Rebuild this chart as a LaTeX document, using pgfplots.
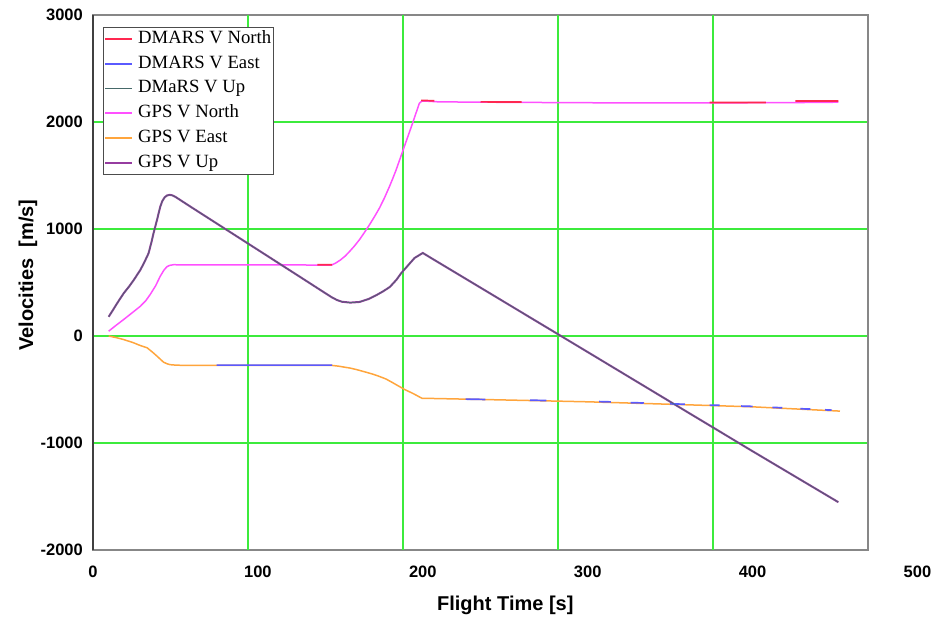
\documentclass[border=0pt]{standalone}
\usepackage{fontspec}
\setmainfont{Liberation Serif}
\setsansfont{Liberation Sans}
\usepackage{pgfplots}
\usepackage{pgfplotstable}
\pgfplotsset{compat=1.18}

\definecolor{dmN}{RGB}{255,40,80}
\definecolor{dmE}{RGB}{90,90,255}
\definecolor{dmU}{RGB}{70,105,105}
\definecolor{gpN}{RGB}{255,80,255}
\definecolor{gpE}{RGB}{255,165,60}
\definecolor{gpU}{RGB}{150,60,160}
\definecolor{gridg}{RGB}{60,235,60}

% GPS V North
\pgfplotstableread{
t v
9.5 45
14 100
18.6 154
24 220
28.7 278
32 330
34.7 388
38 470
40.8 559
43 615
44.8 647
46.5 660
48.8 666
60 665
100 665
140 663
144.6 663
147 680
150 710
153 748
155.6 790
158.5 840
161.6 900
164.5 965
167.7 1040
170.7 1115
173.7 1195
176.8 1292
179.8 1397
181.8 1472
183.8 1551
188 1735
193.8 1988
197.9 2175
199.5 2196
202 2195
210 2188
250 2184
300 2180
350 2178
400 2180
430 2182
452 2185
}\gpsnorth

% GPS V East
\pgfplotstableread{
t v
9.5 0
14 -15
18.6 -33
24.7 -64
28 -85
32.8 -110
36 -150
38.8 -188
42.8 -245
45 -260
46.8 -268
50.8 -273
60 -275
100 -275
145 -275
149 -282
152 -290
156 -300
159.6 -313
166 -340
170 -358
173.7 -378
177.7 -402
181 -430
185.8 -472
189 -500
193.8 -535
199.5 -582
210 -585
250 -598
300 -615
350 -638
400 -662
453 -702
}\gpseast

% V Up (GPS and DMaRS coincide)
\pgfplotstableread{
t v
9.5 180
12 240
14.6 305
18.6 399
22 465
24.7 523
28.7 617
31 685
33.7 773
35.5 880
36.7 960
38.8 1084
40.8 1209
42 1260
43.5 1297
45 1314
46.5 1319
48 1315
50 1300
60 1200
100 805
125.6 552
140 409
145 360
148 336
151 320
156 312
161.6 318
167 345
172 383
176 418
180 458
184 525
187 589
195 729
200 776
206 720
250 313
300 -150
350 -614
400 -1077
452 -1553
}\vup

% DMARS V North, where it shows over GPS
\pgfplotstableread{
t v
136 665
145 665
146 nan
199 2202
207 2198
208 nan
235 2188
260 2187
261 nan
374 2183
408 2183
409 nan
426 2196
452 2196
}\dmarsnorth

% DMARS V East, where it shows over GPS
\pgfplotstableread{
t v
75 -272
145 -272
146 nan
226 -590
238 -593
239 nan
265 -600
275 -603
276 nan
307 -613
314 -616
315 nan
326 -623
334 -626
335 nan
350 -634
359 -638
360 nan
374 -646
380 -648
381 nan
393 -655
400 -658
401 nan
412 -667
418 -671
419 nan
429 -680
435 -683
436 nan
444 -690
448 -693
}\dmarseast

\begin{document}
\begin{tikzpicture}
\useasboundingbox (-93bp,-70bp) rectangle (844bp,550bp);
\begin{axis}[
  at={(0,0)}, anchor=south west,
  scale only axis, width=775bp, height=535bp,
  xmin=0, xmax=470, ymin=-2000, ymax=3000,
  clip=false,
  unbounded coords=jump,
  xtick={0,100,200,300,400},
  xticklabels={0,100,200,300,400},
  ytick={-2000,-1000,0,1000,2000,3000},
  yticklabels={-2000,-1000,0,1000,2000,3000},
  extra x ticks={94,188,282,376},
  extra x tick labels={},
  extra x tick style={grid=major},
  ymajorgrids=true,
  major grid style={draw=gridg, line width=1.3bp},
  major tick length=0pt,
  axis line style={draw={rgb,255:red,135;green,135;blue,135}, line width=1.3bp},
  ticklabel style={font=\sffamily\bfseries\fontsize{16.5bp}{18bp}\selectfont, inner sep=0pt},
  xticklabel style={anchor=north, yshift=-16bp},
  yticklabel style={anchor=east, xshift=-10bp},
  xlabel={Flight Time [s]},
  ylabel={Velocities\ \ [m/s]},
  label style={font=\sffamily\bfseries\fontsize{20bp}{22bp}\selectfont},
  xlabel style={at={(rel axis cs:0.532,-0.1028)}, anchor=center},
  ylabel style={at={(rel axis cs:-0.0839,0.514)}, anchor=center},
  legend style={at={(rel axis cs:0,1)}, anchor=north west, xshift=10bp, yshift=-12bp,
    draw=black!70, line width=0.8bp, fill=white,
    font=\fontsize{18.7bp}{20bp}\selectfont,
    inner xsep=1bp, inner ysep=2bp, row sep=5.8bp, column sep=4bp,
    nodes={inner sep=1bp, text height=13bp, text depth=4bp}},
  legend cell align=left,
  legend image code/.code={\draw[#1, line width=1.8bp] (0bp,0bp) -- (27bp,0bp);},
]
\addlegendimage{color=dmN}\addlegendentry{DMARS V North}
\addlegendimage{color=dmE}\addlegendentry{DMARS V East}
\addlegendimage{color=dmU}\addlegendentry{DMaRS V Up}
\addlegendimage{color=gpN}\addlegendentry{GPS V North}
\addlegendimage{color=gpE}\addlegendentry{GPS V East}
\addlegendimage{color=gpU}\addlegendentry{GPS V Up}

\addplot[forget plot, gpN, line width=1.5bp] table[x=t, y=v] {\gpsnorth};
\addplot[forget plot, gpE, line width=1.5bp] table[x=t, y=v] {\gpseast};
\addplot[forget plot, gpU, line width=2bp] table[x=t, y=v] {\vup};
\addplot[forget plot, dmN, line width=1.7bp] table[x=t, y=v] {\dmarsnorth};
\addplot[forget plot, dmE, line width=1.7bp] table[x=t, y=v] {\dmarseast};
\addplot[forget plot, dmU, line width=0.9bp, opacity=0.8] table[x=t, y=v] {\vup};

\draw[line width=1.3bp, black!75] (rel axis cs:0,0) -- (rel axis cs:0,1);
\node[anchor=north, inner sep=0pt, yshift=-16bp,
  font=\sffamily\bfseries\fontsize{16.5bp}{18bp}\selectfont]
  at (axis cs:500,-2000) {500};
\end{axis}
\end{tikzpicture}
\end{document}
